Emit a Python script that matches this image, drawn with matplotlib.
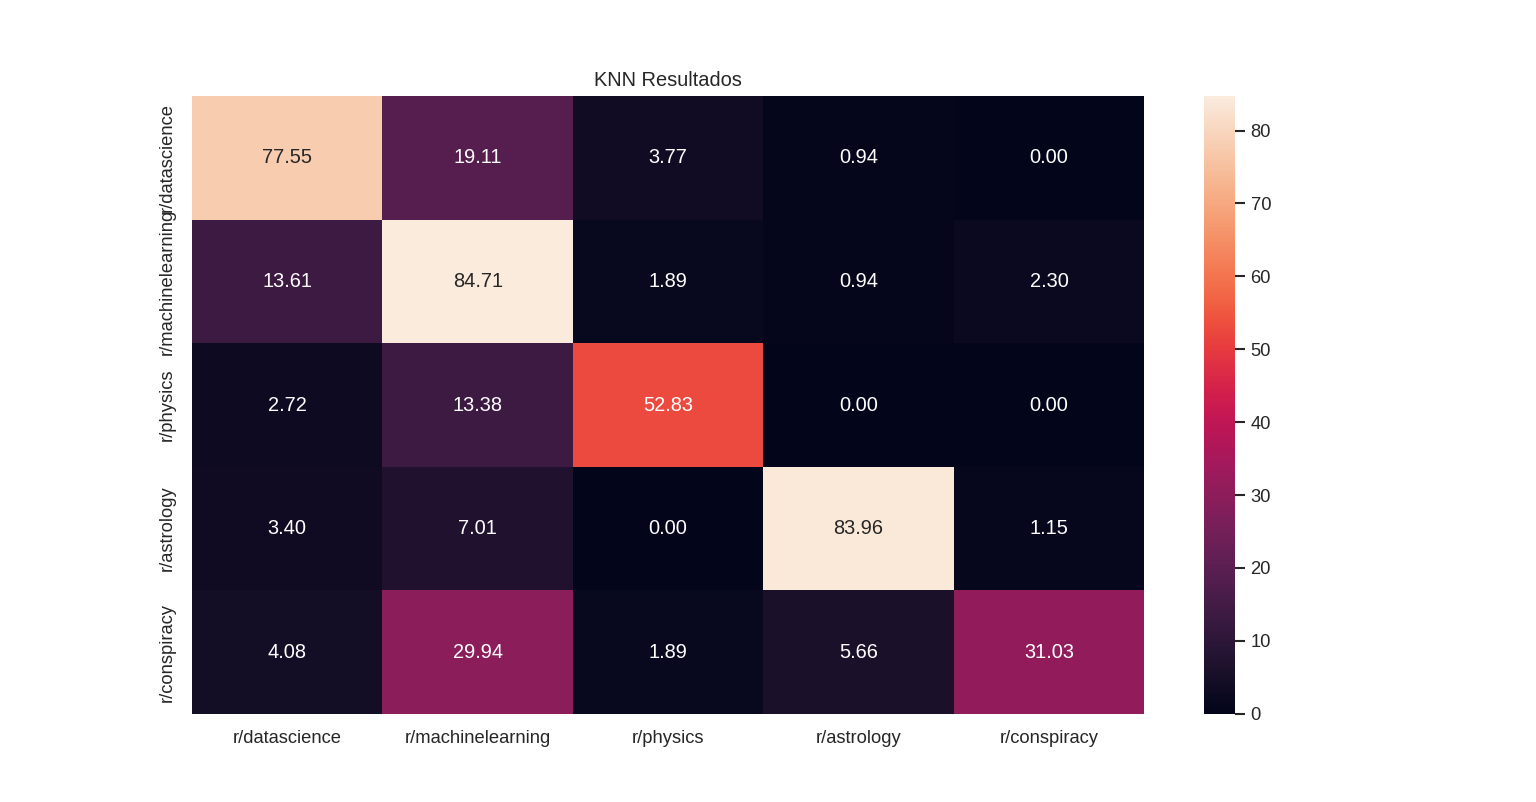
import numpy as np
import matplotlib
matplotlib.use("Agg")
import matplotlib.pyplot as plt
import seaborn as sns

labels = ["r/datascience", "r/machinelearning", "r/physics", "r/astrology", "r/conspiracy"]

row_datascience = [77.55, 19.11, 3.77, 0.94, 0.00]
row_machinelearning = [13.61, 84.71, 1.89, 0.94, 2.30]
row_physics = [2.72, 13.38, 52.83, 0.00, 0.00]
row_astrology = [3.40, 7.01, 0.00, 83.96, 1.15]
row_conspiracy = [4.08, 29.94, 1.89, 5.66, 31.03]

sns.set_theme(style="white")
plt.rcParams['font.family'] = ['Liberation Sans', 'DejaVu Sans']

cm = np.array([row_datascience, row_machinelearning, row_physics,
               row_astrology, row_conspiracy])

fig = plt.figure(figsize=(12.8, 802 / 120), dpi=120)
ax = sns.heatmap(cm, annot=True, fmt=".2f", xticklabels=labels, yticklabels=labels)
plt.setp(ax.get_yticklabels(), rotation=90, va="center")
ax.set_title("KNN Resultados")
plt.savefig("out.png", dpi=120)
